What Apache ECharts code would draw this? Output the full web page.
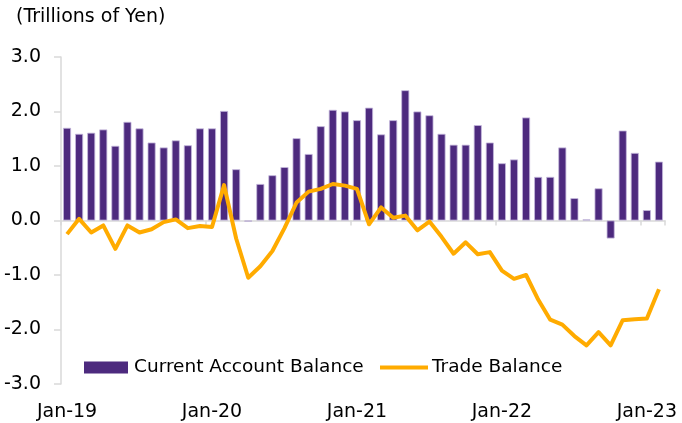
<!DOCTYPE html>
<html>
<head>
<meta charset="utf-8">
<script src="https://cdn.jsdelivr.net/npm/echarts@6/dist/echarts.min.js"></script>
<style>
html,body{margin:0;padding:0;background:#fff;}
#chart{width:682px;height:423px;}
</style>
</head>
<body>
<div id="chart"></div>
<script>
var months = [
  'Jan-19','Feb-19','Mar-19','Apr-19','May-19','Jun-19','Jul-19','Aug-19','Sep-19','Oct-19','Nov-19','Dec-19',
  'Jan-20','Feb-20','Mar-20','Apr-20','May-20','Jun-20','Jul-20','Aug-20','Sep-20','Oct-20','Nov-20','Dec-20',
  'Jan-21','Feb-21','Mar-21','Apr-21','May-21','Jun-21','Jul-21','Aug-21','Sep-21','Oct-21','Nov-21','Dec-21',
  'Jan-22','Feb-22','Mar-22','Apr-22','May-22','Jun-22','Jul-22','Aug-22','Sep-22','Oct-22','Nov-22','Dec-22',
  'Jan-23','Feb-23'
];
var currentAccount = [
  1.70, 1.59, 1.61, 1.67, 1.37, 1.81, 1.69, 1.43, 1.34, 1.47, 1.38, 1.69,
  1.69, 2.01, 0.94, -0.02, 0.67, 0.83, 0.98, 1.51, 1.22, 1.73, 2.03, 2.00,
  1.84, 2.07, 1.58, 1.84, 2.39, 2.00, 1.93, 1.59, 1.39, 1.39, 1.75, 1.43,
  1.05, 1.12, 1.89, 0.80, 0.80, 1.34, 0.41, 0.02, 0.59, -0.33, 1.65, 1.24,
  0.19, 1.08
];
var tradeBalance = [
  -0.25, 0.03, -0.22, -0.09, -0.52, -0.09, -0.22, -0.16, -0.03, 0.02, -0.14, -0.10,
  -0.12, 0.65, -0.33, -1.05, -0.84, -0.56, -0.14, 0.33, 0.53, 0.58, 0.67, 0.64,
  0.58, -0.07, 0.24, 0.05, 0.09, -0.18, -0.02, -0.30, -0.61, -0.40, -0.62, -0.58,
  -0.92, -1.07, -1.00, -1.45, -1.82, -1.91, -2.12, -2.29, -2.05, -2.29, -1.83, -1.81,
  -1.80, -1.26
];
var yTicks = [-3, 3, 1];
var unitLabel = '(Trillions of Yen)';

var FONT = 'DejaVu Sans';
var chart = echarts.init(document.getElementById('chart'), null, {renderer: 'canvas'});
chart.setOption({
  animation: false,
  backgroundColor: '#ffffff',
  textStyle: {fontFamily: FONT},
  title: {
    text: unitLabel,
    left: 16, top: 8, padding: 0,
    textStyle: {fontFamily: FONT, fontSize: 19, fontWeight: 'normal', color: '#000'}
  },
  grid: {left: 61, right: 17, top: 57, bottom: 39, containLabel: false},
  legend: [
    {
      left: 84, top: 358, padding: 0,
      itemWidth: 44, itemHeight: 12,
      itemStyle: {borderWidth: 0},
      textStyle: {fontFamily: FONT, fontSize: 18.5, color: '#000', padding: [0, 0, 0, 1]},
      data: [{name: 'Current Account Balance', icon: 'rect'}]
    },
    {
      left: 380, top: 358, padding: 0,
      itemWidth: 48, itemHeight: 12,
      textStyle: {fontFamily: FONT, fontSize: 18.5, color: '#000', padding: [0, 0, 0, -1]},
      data: [{name: 'Trade Balance', icon: 'path://M0,4 L48,4 L48,8 L0,8 Z M0,0 L0,0 M0,12 L0,12'}]
    }
  ],
  xAxis: {
    type: 'category',
    data: months,
    boundaryGap: true,
    axisLine: {show: true, onZero: true, lineStyle: {color: '#d9d9d9', width: 1.5}},
    axisTick: {show: true, interval: 11, length: 5, lineStyle: {color: '#d9d9d9', width: 1.5}},
    axisLabel: {
      interval: 11, color: '#000', fontFamily: FONT, fontSize: 19,
      margin: 19
    },
    splitLine: {show: false}
  },
  yAxis: {
    type: 'value',
    min: yTicks[0], max: yTicks[1], interval: yTicks[2],
    axisLine: {show: true, lineStyle: {color: '#d9d9d9', width: 1.5}},
    axisTick: {show: true, length: 7, lineStyle: {color: '#d9d9d9', width: 1.5}},
    axisLabel: {
      color: '#000', fontFamily: FONT, fontSize: 19, margin: 20,
      formatter: function (v) { return v.toFixed(1); }
    },
    splitLine: {show: false}
  },
  series: [
    {
      name: 'Current Account Balance',
      type: 'bar',
      data: currentAccount,
      barWidth: 8,
      itemStyle: {color: '#4d2a7e', borderColor: '#c4b8dc', borderWidth: 0.8},
      z: 2
    },
    {
      name: 'Trade Balance',
      type: 'line',
      data: tradeBalance,
      symbol: 'none',
      lineStyle: {color: '#ffab00', width: 4, join: 'round'},
      itemStyle: {color: '#ffab00'},
      z: 3
    }
  ]
});
</script>
</body>
</html>
